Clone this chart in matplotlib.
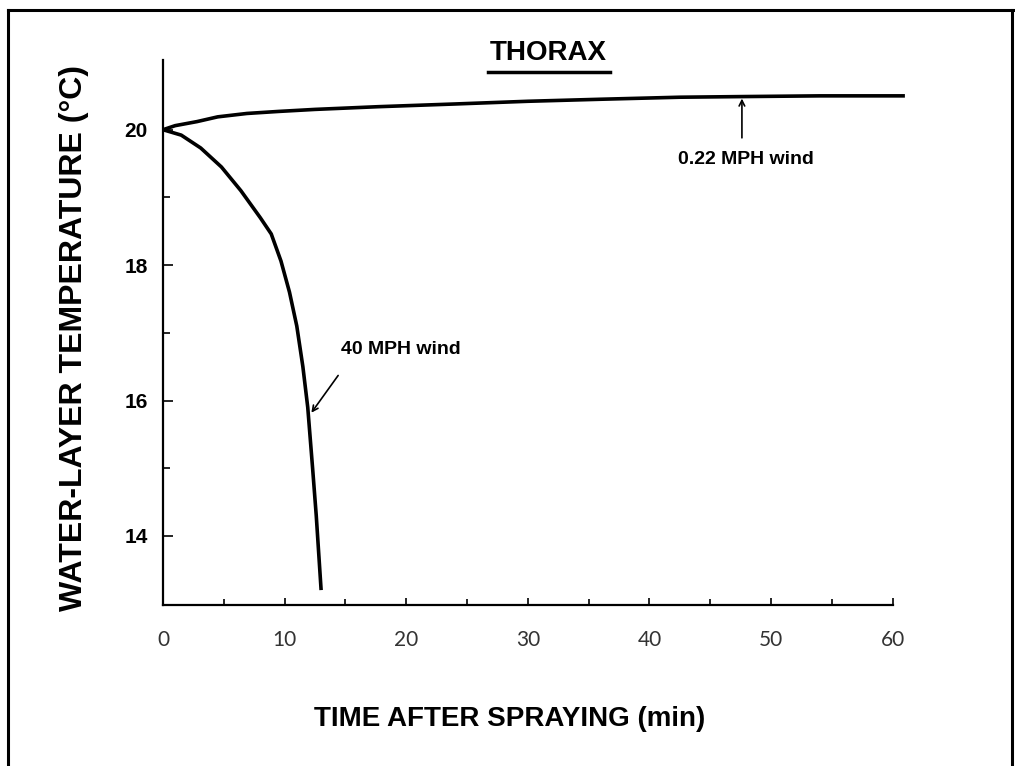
import matplotlib.pyplot as plt
from matplotlib.lines import Line2D

# Values
t_calm = [0, 1, 2.8, 4.5, 6.9, 9.5, 12.5, 17.7, 24, 30, 36, 42.5, 48, 54, 61]
T_calm = [20, 20.06, 20.12, 20.19, 20.24, 20.27, 20.30, 20.34, 20.38, 20.42,
          20.45, 20.48, 20.49, 20.5, 20.5]

t_wind = [0, 1.5, 3.1, 4.8, 6.4, 8.0, 8.9, 9.7, 10.4, 11.0, 11.5, 11.9, 12.3, 12.6, 13.0]
T_wind = [20, 19.92, 19.73, 19.45, 19.1, 18.7, 18.46, 18.06, 17.6, 17.1, 16.5,
          15.9, 15.0, 14.3, 13.2]

x_ticks = [0, 10, 20, 30, 40, 50, 60]
y_ticks = [14, 16, 18, 20]

bold = dict(family="Liberation Sans", fontweight="bold")

fig = plt.figure(figsize=(10.15, 7.66), dpi=100)
ax = fig.add_axes([0.1606, 0.2102, 0.7429, 0.7115])

ax.plot(t_calm, T_calm, color="black", lw=2.6, solid_capstyle="butt")
ax.plot(t_wind, T_wind, color="black", lw=2.6, solid_capstyle="butt")

ax.set_xlim(0, 62)
ax.set_ylim(12.98, 21.03)

for s in ["top", "right"]:
    ax.spines[s].set_visible(False)
ax.spines["bottom"].set_bounds(0, 60)
ax.spines["left"].set_linewidth(1.6)
ax.spines["bottom"].set_linewidth(1.6)

ax.set_xticks(x_ticks)
ax.set_xticks(range(5, 60, 10), minor=True)
ax.set_yticks(y_ticks)
ax.set_yticks([15, 17, 19], minor=True)
ax.tick_params(axis="x", which="major", direction="in", length=5, width=1.2, pad=18)
ax.tick_params(axis="x", which="minor", direction="in", length=4, width=1.2)
ax.tick_params(axis="y", which="major", direction="in", length=7, width=1.2, pad=11)
ax.tick_params(axis="y", which="minor", direction="in", length=5, width=1.2)
for lab in ax.get_xticklabels():
    lab.set_family("Lato")
    lab.set_fontweight("normal")
    lab.set_fontsize(15)
    lab.set_color("#333333")
for lab in ax.get_yticklabels():
    lab.set_family("Liberation Sans")
    lab.set_fontweight("bold")
    lab.set_fontsize(15)

# annotations
ax.annotate("", xy=(47.6, 20.46), xytext=(47.6, 19.88),
            arrowprops=dict(arrowstyle="->", lw=1.2, color="black", shrinkA=0, shrinkB=0))
ax.text(47.9, 19.56, "0.22 MPH wind", ha="center", va="center", fontsize=14, **bold)
ax.annotate("", xy=(12.2, 15.82), xytext=(14.4, 16.37),
            arrowprops=dict(arrowstyle="->", lw=1.2, color="black", shrinkA=0, shrinkB=0))
ax.text(14.6, 16.75, "40 MPH wind", ha="left", va="center", fontsize=14, **bold)

# title and axis labels
fig.text(548 / 1015, 1 - 53 / 766, "THORAX", ha="center", va="center", fontsize=20, **bold)
fig.add_artist(Line2D([488 / 1015, 610 / 1015], [1 - 72 / 766, 1 - 72 / 766],
                      color="black", lw=2.5))
fig.text(510 / 1015, 1 - 719 / 766, "TIME AFTER SPRAYING (min)", ha="center",
         va="center", fontsize=20, **bold)
fig.text(74 / 1015, 1 - 338 / 766, "WATER-LAYER TEMPERATURE (°C)", ha="center",
         va="center", rotation=90, fontsize=23, **bold)

# page frame
fig.add_artist(Line2D([8 / 1015, 8 / 1015], [0, 1 - 10 / 766], color="black", lw=2.2))
fig.add_artist(Line2D([8 / 1015, 1], [1 - 10 / 766, 1 - 10 / 766], color="black", lw=2.2))
fig.add_artist(Line2D([1012 / 1015, 1012 / 1015], [0, 1 - 10 / 766], color="black", lw=2.2))

fig.savefig("out.png", dpi=100)
